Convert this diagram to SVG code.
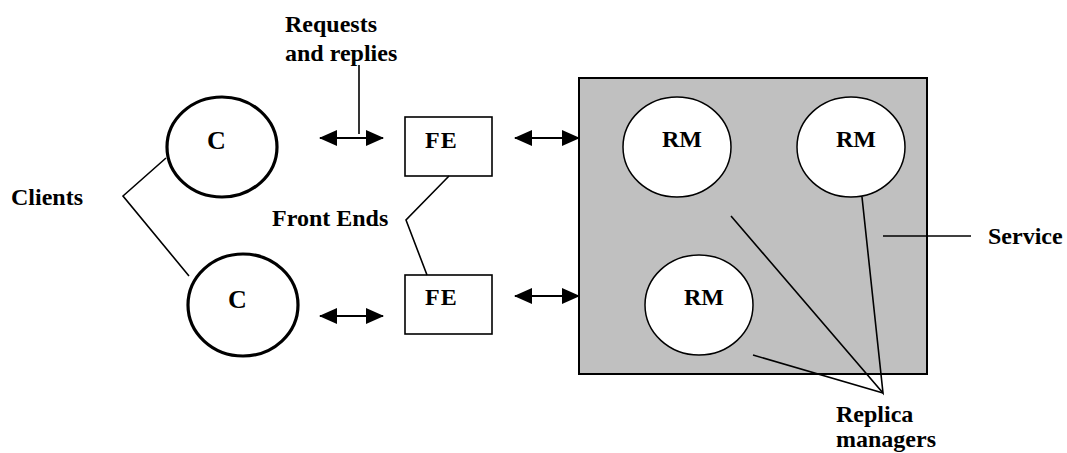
<svg xmlns="http://www.w3.org/2000/svg" width="1067" height="453" viewBox="0 0 1067 453">
<style>
text{font-family:"Liberation Serif","Times New Roman",serif;font-weight:bold;font-size:24px;fill:#000}
.big{font-size:26px}
.client{fill:#fff;stroke:#000;stroke-width:3.2}
.fe{fill:#fff;stroke:#000;stroke-width:1.6}
.rm{fill:#fff;stroke:#000;stroke-width:1.5}
.svc{fill:#c0c0c0;stroke:#000;stroke-width:2}
.ln{fill:none;stroke:#000;stroke-width:1.6}
.arr{fill:none;stroke:#000;stroke-width:2;marker-start:url(#ah);marker-end:url(#ah)}
</style>
<defs>
<marker id="ah" markerUnits="userSpaceOnUse" markerWidth="18" markerHeight="16" viewBox="0 0 18 16" refX="17" refY="8" orient="auto-start-reverse">
<path d="M0,0 L18,8 L0,16 Z" fill="#000"/>
</marker>
</defs>
<g id="service">
<rect class="svc" x="579" y="78" width="348" height="296"/>
<text x="988" y="244">Service</text>
</g>
<g id="rm1"><ellipse class="rm" cx="677" cy="147" rx="54" ry="50"/><text x="662" y="147">RM</text></g>
<g id="rm2"><ellipse class="rm" cx="851" cy="147" rx="54" ry="50"/><text x="836" y="147">RM</text></g>
<g id="rm3"><ellipse class="rm" cx="699" cy="305" rx="54" ry="50"/><text x="684" y="305">RM</text></g>
<g id="c1"><ellipse class="client" cx="222" cy="147" rx="55" ry="50"/><text class="big" x="207" y="149">C</text></g>
<g id="c2"><ellipse class="client" cx="243" cy="305" rx="55" ry="51"/><text class="big" x="228" y="308">C</text></g>
<g id="fe1"><rect class="fe" x="405" y="117" width="87" height="59"/><text x="425" y="148" letter-spacing="1">FE</text></g>
<g id="fe2"><rect class="fe" x="405" y="275" width="87" height="59"/><text x="425" y="305" letter-spacing="1">FE</text></g>
<g id="labels">
<text x="285" y="32">Requests</text>
<text x="285" y="61">and replies</text>
<text x="11" y="205">Clients</text>
<text x="272" y="226">Front Ends</text>
<text x="836" y="422">Replica</text>
<text x="836" y="447">managers</text>
</g>
<g id="connectors">
<line class="arr" x1="320" y1="138" x2="383" y2="138"/>
<line class="arr" x1="320" y1="316" x2="383" y2="316"/>
<line class="arr" x1="515" y1="138" x2="579" y2="138"/>
<line class="arr" x1="515" y1="296" x2="579" y2="296"/>
<line class="ln" x1="359" y1="65" x2="359" y2="134"/>
<polyline class="ln" points="166,158 123,196 189,276"/>
<polyline class="ln" points="449,176 406,220 427,275"/>
<line class="ln" x1="883" y1="236" x2="971" y2="236"/>
<polyline class="ln" points="731,216 883,393 862,197"/>
<line class="ln" x1="753" y1="355" x2="883" y2="393"/>
</g>
</svg>
